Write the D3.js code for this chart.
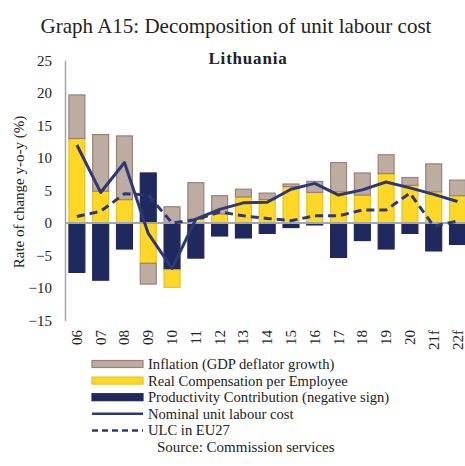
<!DOCTYPE html>
<html>
<head>
<meta charset="utf-8">
<script src="https://cdn.jsdelivr.net/npm/d3@7"></script>
<style>
  html, body { margin: 0; padding: 0; background: #fff; }
  svg { display: block; font-family: "Liberation Serif", "Times New Roman", serif; }
</style>
</head>
<body>
<svg id="chart" width="465" height="466"></svg>
<script>
// Years (f = forecast)
const years = ["06","07","08","09","10","11","12","13","14","15","16","17","18","19","20","21f","22f"];
// Components of nominal ULC growth, % y-o-y
const productivity = [-7.6,-8.8,-4.0,7.7,-7.2,-5.4,-2.0,-2.3,-1.6,-0.7,-0.3,-5.3,-2.7,-4.0,-1.6,-4.3,-3.3];
const realComp     = [13.0,4.9,3.6,-6.2,-2.7,0.6,1.4,4.0,3.6,5.6,4.7,4.8,4.3,7.6,5.8,4.8,4.2];
const inflation    = [6.7,8.7,9.8,-3.2,2.5,5.6,2.8,1.2,1.0,0.4,1.7,4.5,3.4,2.9,1.2,4.3,2.4];
// Lines
const nominalULC   = [12.0,4.7,9.3,-1.6,-7.0,0.6,2.1,3.1,3.2,5.2,6.1,4.3,5.1,6.3,5.4,4.4,3.3];
const ulcEU27      = [1.0,1.8,4.5,4.3,0.0,0.5,1.7,1.1,0.7,0.35,1.1,1.1,2.0,2.0,4.6,-0.5,0.3];
const yTicks = [25,20,15,10,5,0,-5,-10,-15];

const svg = d3.select("#chart");
const textColor = "#222";
const lineColor = "#2d3877";

const x = d3.scaleBand().domain(years).range([65, 469.4]).paddingInner(0.33).paddingOuter(0.165);
const y = d3.scaleLinear().domain([-15, 25]).range([320.5, 60.5]);

// Titles
svg.append("text").attr("x", 236).attr("y", 33).attr("text-anchor", "middle")
  .attr("font-size", 21).attr("fill", textColor)
  .text("Graph A15: Decomposition of unit labour cost");
svg.append("text").attr("x", 248).attr("y", 64).attr("text-anchor", "middle")
  .attr("font-size", 17).attr("font-weight", "bold").attr("letter-spacing", 0.8).attr("fill", textColor)
  .text("Lithuania");

// Y axis
const yAxis = svg.append("g").attr("transform", "translate(65,0)")
  .call(d3.axisLeft(y).tickValues(yTicks).tickSize(0).tickPadding(13).tickFormat(d3.format("d")));
yAxis.select(".domain").attr("stroke", "#a6a6a6").attr("stroke-width", 1.5);
yAxis.selectAll("text").attr("font-size", 15).attr("fill", textColor)
  .attr("font-family", "Liberation Serif, Times New Roman, serif");

svg.append("text")
  .attr("transform", "translate(24,192) rotate(-90)")
  .attr("text-anchor", "middle").attr("font-size", 15).attr("fill", textColor)
  .text("Rate of change y-o-y (%)");

// Stacked bars (diverging stack: positives up, negatives down)
const rows = years.map((yr, i) => ({ year: yr, prod: productivity[i], real: realComp[i], infl: inflation[i] }));
const keys = ["prod", "real", "infl"];
const fills = { prod: "#1f295d", real: "#ffd726", infl: "#bcaca2" };
const strokes = { prod: "#1f295d", real: "#e8c21c", infl: "#9a8274" };
const series = d3.stack().keys(keys).offset(d3.stackOffsetDiverging)(rows);

svg.append("g").selectAll("g").data(series).join("g")
  .attr("fill", d => fills[d.key]).attr("stroke", d => strokes[d.key]).attr("stroke-width", 1.2)
  .selectAll("rect").data(d => d).join("rect")
  .attr("x", d => x(d.data.year))
  .attr("width", x.bandwidth())
  .attr("y", d => y(Math.max(d[0], d[1])))
  .attr("height", d => Math.abs(y(d[0]) - y(d[1])));

// Zero line
svg.append("line").attr("x1", 65).attr("x2", 465).attr("y1", y(0)).attr("y2", y(0))
  .attr("stroke", "#a6a6a6").attr("stroke-width", 2);

// Lines
const line = d3.line().x((d, i) => x(years[i]) + x.bandwidth() / 2).y(d => y(d));
svg.append("path").datum(ulcEU27).attr("d", line).attr("fill", "none")
  .attr("stroke", lineColor).attr("stroke-width", 3).attr("stroke-dasharray", "8,5");
svg.append("path").datum(nominalULC).attr("d", line).attr("fill", "none")
  .attr("stroke", lineColor).attr("stroke-width", 3).attr("stroke-linejoin", "round");

// X axis labels (rotated)
svg.append("g").selectAll("text").data(years).join("text")
  .attr("transform", d => `translate(${x(d) + x.bandwidth() / 2 + 5},330) rotate(-90)`)
  .attr("text-anchor", "end").attr("font-size", 15).attr("fill", textColor)
  .text(d => d);

// Legend
const legend = [
  { label: "Inflation (GDP deflator growth)", type: "rect", key: "infl" },
  { label: "Real Compensation per Employee", type: "rect", key: "real" },
  { label: "Productivity Contribution (negative sign)", type: "rect", key: "prod" },
  { label: "Nominal unit labour cost", type: "line" },
  { label: "ULC in EU27", type: "dash" }
];
const lg = svg.append("g");
legend.forEach((item, i) => {
  const cy = 364 + i * 16.6;
  if (item.type === "rect") {
    lg.append("rect").attr("x", 92).attr("y", cy - 3.5).attr("width", 51).attr("height", 7)
      .attr("fill", fills[item.key]).attr("stroke", strokes[item.key]).attr("stroke-width", 1.2);
  } else {
    lg.append("line").attr("x1", 92).attr("x2", 143).attr("y1", cy).attr("y2", cy)
      .attr("stroke", lineColor).attr("stroke-width", 2.5)
      .attr("stroke-dasharray", item.type === "dash" ? "6,4" : null);
  }
  lg.append("text").attr("x", 148).attr("y", cy + 5).attr("font-size", 14.6).attr("fill", textColor)
    .text(item.label);
});
lg.append("text").attr("x", 157).attr("y", 364 + 5 * 16.6 + 5).attr("font-size", 15).attr("fill", textColor)
  .text("Source: Commission services");
</script>
</body>
</html>
